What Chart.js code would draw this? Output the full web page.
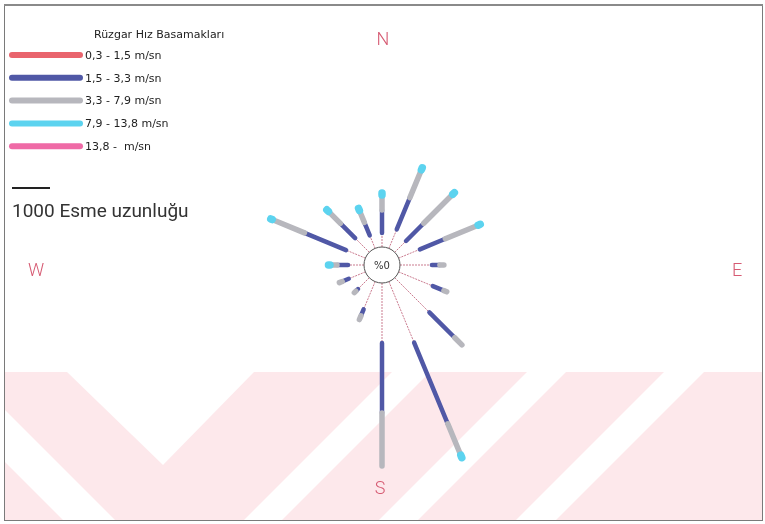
<!DOCTYPE html>
<html>
<head>
<meta charset="utf-8">
<title>Rüzgar Gülü</title>
<script src="https://cdn.jsdelivr.net/npm/chart.js@4.4.1/dist/chart.umd.min.js"></script>
<style>
  html, body { margin: 0; padding: 0; background: #fff; }
  #wrap { position: relative; width: 765px; height: 524px; }
</style>
</head>
<body>
<div id="wrap"><canvas id="rose"></canvas></div>
<script>
// 16 directions, clockwise from north
const DIRECTIONS = ['N', 'NNE', 'NE', 'ENE', 'E', 'ESE', 'SE', 'SSE', 'S', 'SSW', 'SW', 'WSW', 'W', 'WNW', 'NW', 'NNW'];
const SPEED_CLASSES = ['0,3 - 1,5 m/sn', '1,5 - 3,3 m/sn', '3,3 - 7,9 m/sn', '7,9 - 13,8 m/sn', '13,8 -  m/sn'];
const CLASS_COLORS = ['#e9646d', '#5058a6', '#b7b7bd', '#5cd3ef', '#ef6aa6'];

// blow counts per direction, one list per speed class
const BLOWS_03_15 = [370, 540, 420, 605, 840, 975, 1290, 1735, 1580, 790, 420, 475, 420, 550, 525, 370];
const BLOWS_15_33 = [605, 905, 660, 725, 210, 315, 945, 2315, 1840, 185, 80, 185, 290, 1185, 550, 370];
const BLOWS_33_79 = [395, 790, 1080, 935, 105, 80, 265, 895, 1395, 105, 55, 80, 185, 920, 445, 340];
const BLOWS_79_138 = [50, 60, 60, 60, 0, 0, 0, 70, 0, 0, 0, 0, 40, 40, 60, 60];
const BLOWS_138_UP = [0, 0, 0, 0, 0, 0, 0, 0, 0, 0, 0, 0, 0, 0, 0, 0];

const CALM_PERCENT = 0;
const SCALE_BLOWS = 1000;
const SCALE_LABEL = SCALE_BLOWS + ' Esme uzunluğu';
const LEGEND_TITLE = 'Rüzgar Hız Basamakları';

// layout
const W = 765, H = 524;
const CENTER_X = 382, CENTER_Y = 265;
const PX_PER_BLOW = 38 / SCALE_BLOWS;
const CALM_RADIUS = 18 / PX_PER_BLOW;
const CLASS_WIDTHS = [1, 4.5, 5.5, 7.5, 7.5];

const classes = [BLOWS_03_15, BLOWS_15_33, BLOWS_33_79, BLOWS_79_138, BLOWS_138_UP];

function buildDatasets() {
  const offsets = DIRECTIONS.map(() => CALM_RADIUS);
  return classes.map((values, c) => {
    const data = [];
    values.forEach((v, k) => {
      const a = k * Math.PI / 8;
      const r0 = offsets[k];
      const r1 = r0 + v;
      offsets[k] = r1;
      if (v <= 0) return;
      data.push({ x: r0 * Math.sin(a), y: r0 * Math.cos(a) });
      data.push({ x: r1 * Math.sin(a), y: r1 * Math.cos(a) });
      data.push({ x: null, y: null });
    });
    return {
      label: SPEED_CLASSES[c],
      data,
      showLine: true,
      spanGaps: false,
      borderColor: c === 0 ? 'rgba(196, 110, 132, 0.9)' : CLASS_COLORS[c],
      borderWidth: CLASS_WIDTHS[c],
      borderDash: c === 0 ? [2, 1] : [],
      borderCapStyle: c === 0 ? 'butt' : 'round',
      pointRadius: 0,
      order: classes.length - c,
    };
  });
}

// faint chevron band behind the rose
function drawBand(ctx) {
  const polys = [
    [[5, 410], [5, 462], [63, 520], [115, 520]],
    [[67, 372], [254, 372], [163, 465]],
    [[392, 372], [430, 372], [282, 520], [244, 520]],
    [[527, 372], [566, 372], [418, 520], [379, 520]],
    [[664, 372], [704, 372], [556, 520], [516, 520]],
  ];
  ctx.save();
  ctx.beginPath();
  ctx.rect(5, 372, 757, 148);
  ctx.clip();
  ctx.fillStyle = '#fde8eb';
  ctx.fillRect(5, 372, 757, 148);
  ctx.fillStyle = '#ffffff';
  ctx.beginPath();
  polys.forEach((p) => {
    ctx.moveTo(p[0][0], p[0][1]);
    p.slice(1).forEach(([x, y]) => ctx.lineTo(x, y));
    ctx.closePath();
  });
  ctx.fill();
  ctx.restore();
}

const rosePlugin = {
  id: 'rose',
  beforeDatasetsDraw(chart) {
    const { ctx } = chart;
    ctx.save();
    ctx.fillStyle = '#fff';
    ctx.fillRect(0, 0, W, H);
    ctx.restore();
    drawBand(ctx);

    // frame
    ctx.save();
    ctx.strokeStyle = '#7a7a7a';
    ctx.lineWidth = 1;
    ctx.strokeRect(4.5, 5.5, 758, 515);
    ctx.strokeStyle = '#8a8a8a';
    ctx.lineWidth = 2;
    ctx.beginPath();
    ctx.moveTo(4, 5);
    ctx.lineTo(763, 5);
    ctx.stroke();
    ctx.restore();
  },
  afterDatasetsDraw(chart) {
    const { ctx } = chart;
    const xs = chart.scales.x, ys = chart.scales.y;
    const cx = xs.getPixelForValue(0), cy = ys.getPixelForValue(0);
    const rPx = xs.getPixelForValue(CALM_RADIUS) - cx;

    // calm circle
    ctx.save();
    ctx.fillStyle = '#fff';
    ctx.strokeStyle = '#555';
    ctx.lineWidth = 1;
    ctx.beginPath();
    ctx.arc(cx, cy, rPx, 0, Math.PI * 2);
    ctx.fill();
    ctx.stroke();
    ctx.fillStyle = '#333';
    ctx.font = '10px "DejaVu Sans"';
    ctx.textAlign = 'center';
    ctx.textBaseline = 'middle';
    ctx.fillText('%' + CALM_PERCENT, cx, cy + 1);
    ctx.restore();

    // compass letters
    ctx.save();
    ctx.fillStyle = '#d65a72';
    ctx.font = '300 18px Roboto';
    ctx.textAlign = 'center';
    ctx.textBaseline = 'middle';
    ctx.fillText('N', 383, 40);
    ctx.fillText('E', 737, 271);
    ctx.fillText('S', 380, 489);
    ctx.fillText('W', 36, 271);
    ctx.restore();

    // legend
    ctx.save();
    ctx.fillStyle = '#222';
    ctx.font = '11px "DejaVu Sans"';
    ctx.textBaseline = 'middle';
    ctx.fillText(LEGEND_TITLE, 94, 35);
    SPEED_CLASSES.forEach((label, i) => {
      const y = 55 + i * 22.8;
      ctx.strokeStyle = CLASS_COLORS[i];
      ctx.lineWidth = 6;
      ctx.lineCap = 'round';
      ctx.beginPath();
      ctx.moveTo(12, y);
      ctx.lineTo(80, y);
      ctx.stroke();
      ctx.fillStyle = '#222';
      ctx.fillText(label, 85, y + 1);
    });
    ctx.restore();

    // length scale
    const len = xs.getPixelForValue(SCALE_BLOWS) - xs.getPixelForValue(0);
    ctx.save();
    ctx.strokeStyle = '#222';
    ctx.lineWidth = 2;
    ctx.beginPath();
    ctx.moveTo(12, 188);
    ctx.lineTo(12 + len, 188);
    ctx.stroke();
    ctx.fillStyle = '#333';
    ctx.font = '19px Roboto';
    ctx.textBaseline = 'alphabetic';
    ctx.fillText(SCALE_LABEL, 12, 217);
    ctx.restore();
  },
};

new Chart(document.getElementById('rose'), {
  type: 'scatter',
  data: { datasets: buildDatasets() },
  options: {
    responsive: true,
    maintainAspectRatio: false,
    animation: false,
    layout: { padding: 0 },
    plugins: {
      legend: { display: false },
      tooltip: { enabled: false },
    },
    scales: {
      x: { type: 'linear', display: false, min: -CENTER_X / PX_PER_BLOW, max: (W - CENTER_X) / PX_PER_BLOW },
      y: { type: 'linear', display: false, min: -(H - CENTER_Y) / PX_PER_BLOW, max: CENTER_Y / PX_PER_BLOW },
    },
  },
  plugins: [rosePlugin],
});
</script>
</body>
</html>
